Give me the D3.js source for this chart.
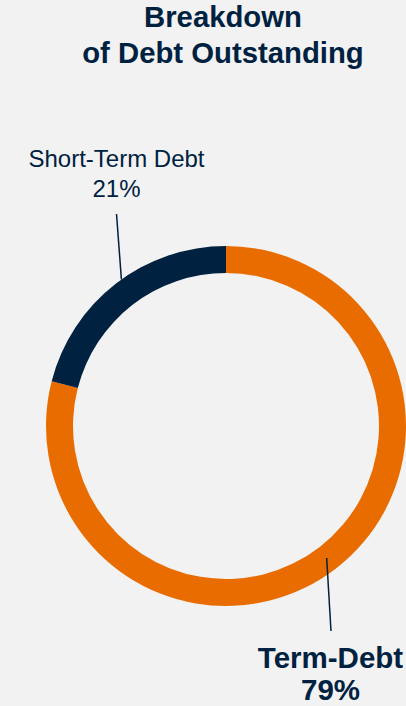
<!DOCTYPE html>
<html lang="en">
<head>
<meta charset="UTF-8">
<title>Breakdown of Debt Outstanding</title>
<script src="https://d3js.org/d3.v7.min.js"></script>
<style>
  html, body { margin: 0; padding: 0; background: #f2f2f2; }
  svg { display: block; font-family: "Liberation Sans", Arial, sans-serif; }
</style>
</head>
<body>
<svg width="406" height="706"></svg>
<script>
// data
var categories = ["Term-Debt", "Short-Term Debt"];
var shares = [79, 21];
var colors = ["#e96c00", "#00213f"];
var titleLines = ["Breakdown", "of Debt Outstanding"];

var svg = d3.select("svg"),
    width = +svg.attr("width"),
    height = +svg.attr("height");

var navy = "#00213f";
var cx = 226, cy = 426, outerR = 180, innerR = 153;

// title
svg.append("text")
    .attr("x", 223)
    .attr("y", 27)
    .attr("text-anchor", "middle")
    .attr("fill", navy)
    .attr("font-size", "29.3px")
    .attr("font-weight", "bold")
    .selectAll("tspan")
    .data(titleLines)
    .enter().append("tspan")
    .attr("x", 223)
    .attr("dy", function (d, i) { return i ? 36 : 0; })
    .text(function (d) { return d; });

var pie = d3.pie().sort(null).value(function (d) { return d; });
var arcs = pie(shares);

var arc = d3.arc().innerRadius(innerR).outerRadius(outerR);

var g = svg.append("g").attr("transform", "translate(" + cx + "," + cy + ")");

g.selectAll("path")
    .data(arcs)
    .enter().append("path")
    .attr("d", arc)
    .attr("fill", function (d, i) { return colors[i]; });

// leader lines + labels
var labels = [
    { i: 1, r0: outerR, ang: -0.62, end: [116.5, 214], tx: 116.5, ty: 167, bold: false, size: 24, gap: 30 },
    { i: 0, r0: 166, ang: 2.49, end: [331, 631], tx: 330.5, ty: 668, bold: true, size: 29.5, gap: 32 }
];

labels.forEach(function (l) {
    var sx = cx + l.r0 * Math.sin(l.ang),
        sy = cy - l.r0 * Math.cos(l.ang);
    svg.append("line")
        .attr("x1", sx).attr("y1", sy)
        .attr("x2", l.end[0]).attr("y2", l.end[1])
        .attr("stroke", navy)
        .attr("stroke-width", 1.5);

    var t = svg.append("text")
        .attr("text-anchor", "middle")
        .attr("fill", navy)
        .attr("font-size", l.size + "px")
        .attr("font-weight", l.bold ? "bold" : "normal");
    t.append("tspan").attr("x", l.tx).attr("y", l.ty).text(categories[l.i]);
    t.append("tspan").attr("x", l.tx).attr("y", l.ty + l.gap).text(shares[l.i] + "%");
});
</script>
</body>
</html>
